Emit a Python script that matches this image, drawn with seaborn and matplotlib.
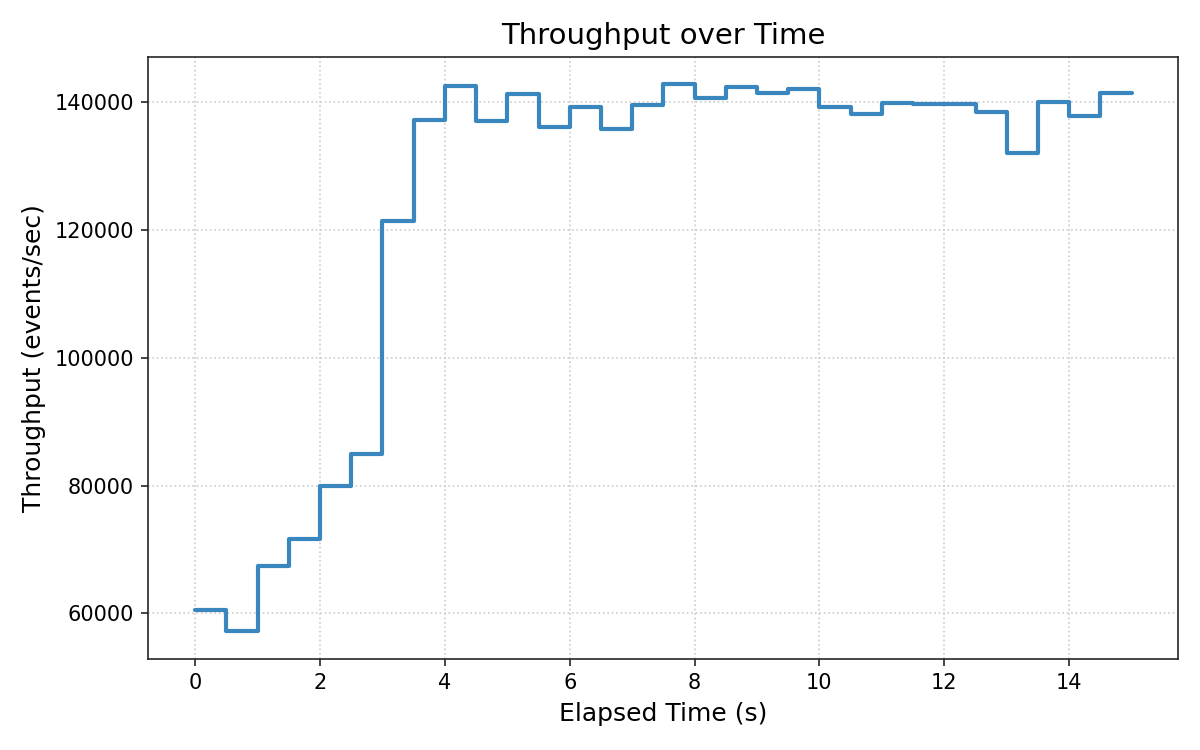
import numpy as np
import pandas as pd
import matplotlib
matplotlib.use('Agg')
import matplotlib.pyplot as plt
import seaborn as sns

elapsed = [0, 0.5, 1, 1.5, 2, 2.5, 3, 3.5, 4, 4.5, 5, 5.5, 6, 6.5, 7, 7.5,
           8, 8.5, 9, 9.5, 10, 10.5, 11, 11.5, 12, 12.5, 13, 13.5, 14, 14.5, 15]
throughput = [60500, 57200, 67400, 71600, 80000, 85000, 121400, 137200,
              142600, 137000, 141300, 136200, 139200, 135800, 139500, 142800,
              140700, 142400, 141400, 142100, 139300, 138200, 139900, 139750,
              139750, 138500, 132100, 140050, 137900, 141450, 141450]

df = pd.DataFrame({'t': elapsed, 'tp': throughput})

sns.set_style('white')
plt.rcParams['text.color'] = 'black'
plt.rcParams['axes.labelcolor'] = 'black'
plt.rcParams['xtick.color'] = 'black'
plt.rcParams['ytick.color'] = 'black'

fig, ax = plt.subplots(figsize=(8, 5), dpi=150)
sns.lineplot(data=df, x='t', y='tp', ax=ax, drawstyle='steps-post',
             color='#3a86bf', linewidth=2)

ax.grid(True, linestyle=':', color='#cccccc', linewidth=0.8)
for s in ax.spines.values():
    s.set_color('#262626')
    s.set_linewidth(0.8)
ax.tick_params(axis='both', which='major', length=3.5, width=0.8, color='#262626',
               labelsize=10, labelcolor='black', bottom=True, left=True)
ax.set_title('Throughput over Time', fontsize=14, color='black')
ax.set_xlabel('Elapsed Time (s)', fontsize=12, color='black')
ax.set_ylabel('Throughput (events/sec)', fontsize=12, color='black')
ax.set_xticks(np.arange(0, 15, 2))
ax.ticklabel_format(axis='y', style='plain', useOffset=False)

fig.subplots_adjust(left=0.1236, right=0.982, top=0.924, bottom=0.1217)
plt.savefig('out.png', dpi=150)
